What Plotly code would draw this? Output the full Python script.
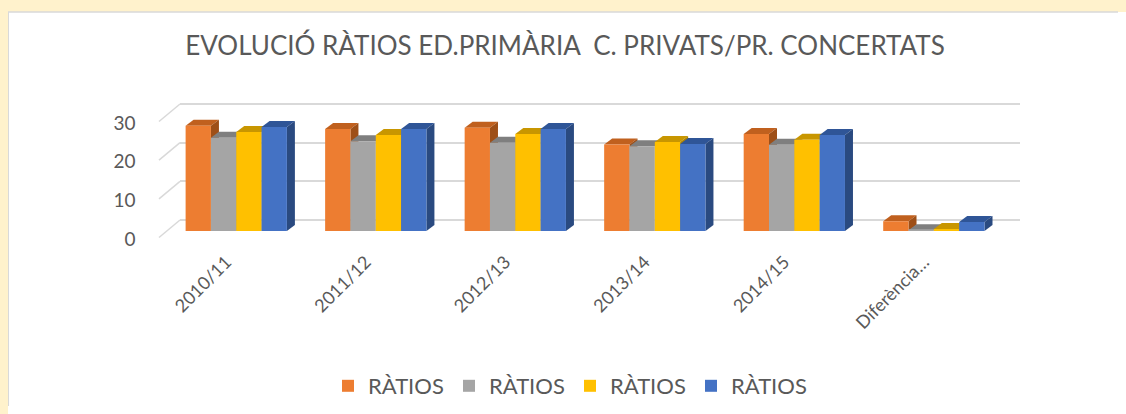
import plotly.graph_objects as go

# ---------------- data ----------------
categories = ["2010/11", "2011/12", "2012/13", "2013/14", "2014/15", "Diferència…"]
series_names = ["RÀTIOS", "RÀTIOS", "RÀTIOS", "RÀTIOS"]
s1 = [27.2, 26.4, 26.7, 22.4, 25.1, 2.5]
s2 = [24.1, 23.2, 22.8, 21.9, 22.3, 0.2]
s3 = [25.6, 24.8, 25.1, 23.0, 23.6, 0.5]
s4 = [26.9, 26.4, 26.4, 22.5, 24.8, 2.3]
y_ticks = [0, 10, 20, 30]

# ---------------- style ----------------
# page is 1126x414; the browser's default 8px body margin surrounds the figure
PAGE_M = 8
FW, FH = 1126 - 2 * PAGE_M, 414 - 2 * PAGE_M
front_col = ["#ED7D31", "#A5A5A5", "#FFC000", "#4472C4"]
top_col = ["#C0601E", "#7F7F7F", "#C89600", "#2F5597"]
side_col = ["#9E4F17", "#6E6E6E", "#B08400", "#2A4A80"]
txt = "#595959"
grid = "#D9D9D9"
yellow = "#FFF2CC"
FONT = "Lato"

def fx(X):            # page pixel x -> paper fraction
    return (X - PAGE_M) / FW

def fy(Y):            # page pixel y -> paper fraction
    return (FH - (Y - PAGE_M)) / FH

SC = 3.867            # pixels per unit on the value axis
# bars (front) geometry in page pixels
bx0, bx1 = 166.5, 1003.6
by0 = 231.0
yr_max = 32
# back wall geometry in page pixels
wx0, wx1 = 180.0, 1020.0
wy0 = 220.0
wall_lo, wall_hi = -0.5, 30.5

bargap = 0.274
depth_dx, depth_dy = 8.0, 6.0      # pixel depth of the 3D faces
cat_px = (bx1 - bx0) / len(categories)
dxu = depth_dx / cat_px
dyu = depth_dy / SC

fig = go.Figure()

# back wall (gridlines only)
fig.add_trace(go.Scatter(x=[], y=[], xaxis="x", yaxis="y", showlegend=False, hoverinfo="skip"))

series = [s1, s2, s3, s4]
for j, (vals, name) in enumerate(zip(series, series_names)):
    fig.add_trace(go.Bar(
        x=categories, y=vals, name=name, xaxis="x2", yaxis="y2",
        marker=dict(color=front_col[j], line=dict(width=0)),
    ))

shapes = []
# white chart panel
shapes.append(dict(type="rect", xref="paper", yref="paper",
                   x0=fx(8.3), x1=1.2, y0=-0.2, y1=fy(12),
                   fillcolor="white", line=dict(color=grid, width=1.5), layer="below"))

# perspective diagonals at the left of each gridline
for t in y_ticks:
    yb = wy0 - t * SC
    shapes.append(dict(type="line", xref="paper", yref="paper",
                       x0=fx(wx0), y0=fy(yb), x1=fx(wx0 - 21), y1=fy(yb + 17.5),
                       line=dict(color=grid, width=1.5), layer="below"))

# 3D faces of the bars computed from the values
wbar = (1 - bargap) / len(series)
for i in range(len(categories)):
    for j, vals in enumerate(series):
        v = vals[i]
        L = i - (1 - bargap) / 2 + j * wbar
        R = L + wbar
        shapes.append(dict(type="path", xref="x2", yref="y2", layer="between",
                           path=f"M{L},{v} L{L+dxu},{v+dyu} L{R+dxu},{v+dyu} L{R},{v} Z",
                           fillcolor=top_col[j], line=dict(width=0)))
        shapes.append(dict(type="path", xref="x2", yref="y2", layer="between",
                           path=f"M{R},0 L{R+dxu},{dyu} L{R+dxu},{v+dyu} L{R},{v} Z",
                           fillcolor=side_col[j], line=dict(width=0)))

fig.update_layout(
    width=FW, height=FH, autosize=False,
    margin=dict(l=0, r=0, t=0, b=0, autoexpand=False),
    paper_bgcolor=yellow,
    plot_bgcolor="rgba(0,0,0,0)",
    font=dict(family=FONT, color=txt, size=19),
    barmode="group", bargap=bargap, bargroupgap=0,
    shapes=shapes,
    title=dict(text="EVOLUCIÓ RÀTIOS ED.PRIMÀRIA  C. PRIVATS/PR. CONCERTATS",
               x=fx(565), xanchor="center", y=fy(46), yanchor="middle",
               font=dict(family=FONT, size=26, color=txt)),
    xaxis=dict(domain=[fx(wx0), fx(wx1)], range=[0, 1], visible=False, fixedrange=True,
               automargin=False),
    yaxis=dict(domain=[fy(wy0 - wall_lo * SC), fy(wy0 - wall_hi * SC)],
               range=[wall_lo, wall_hi], tickvals=y_ticks, automargin=False,
               showgrid=True, gridcolor=grid, gridwidth=1.5, showticklabels=False,
               zeroline=False, showline=False, ticks=""),
    xaxis2=dict(domain=[fx(bx0), fx(bx1)], anchor="y2", type="category",
                range=[-0.5, len(categories) - 0.5], tickangle=-45, automargin=False,
                showgrid=False, showline=False, zeroline=False, ticks="",
                ticklabelstandoff=16, ticklabelshift=-10,
                tickfont=dict(size=18, color=txt)),
    yaxis2=dict(domain=[fy(by0), fy(by0 - yr_max * SC)], anchor="x2", range=[0, yr_max],
                tickvals=y_ticks, showgrid=False, zeroline=False, showline=False, ticks="",
                ticklabelstandoff=30, ticklabelshift=8, automargin=False,
                tickfont=dict(size=19, color=txt)),
    legend=dict(orientation="h", x=fx(328), xanchor="left", y=fy(386), yanchor="middle",
                font=dict(size=22, color=txt), bgcolor="rgba(0,0,0,0)",
                entrywidth=76, entrywidthmode="pixels", traceorder="normal"),
    annotations=[dict(text="<b>Gràfic 1.</b>", xref="paper", yref="paper",
                      x=fx(13), y=fy(7), xanchor="left", yanchor="bottom",
                      showarrow=False, font=dict(family=FONT, size=20, color="#4F7A28"))],
)

page_bg = ("document.body.style.background="
           "'linear-gradient(to right, " + yellow + " 8px, transparent 8px), "
           "linear-gradient(to bottom, " + yellow + " 12px, white 12px)';")

fig.write_html("out.html", config={"displayModeBar": False}, post_script=page_bg)
